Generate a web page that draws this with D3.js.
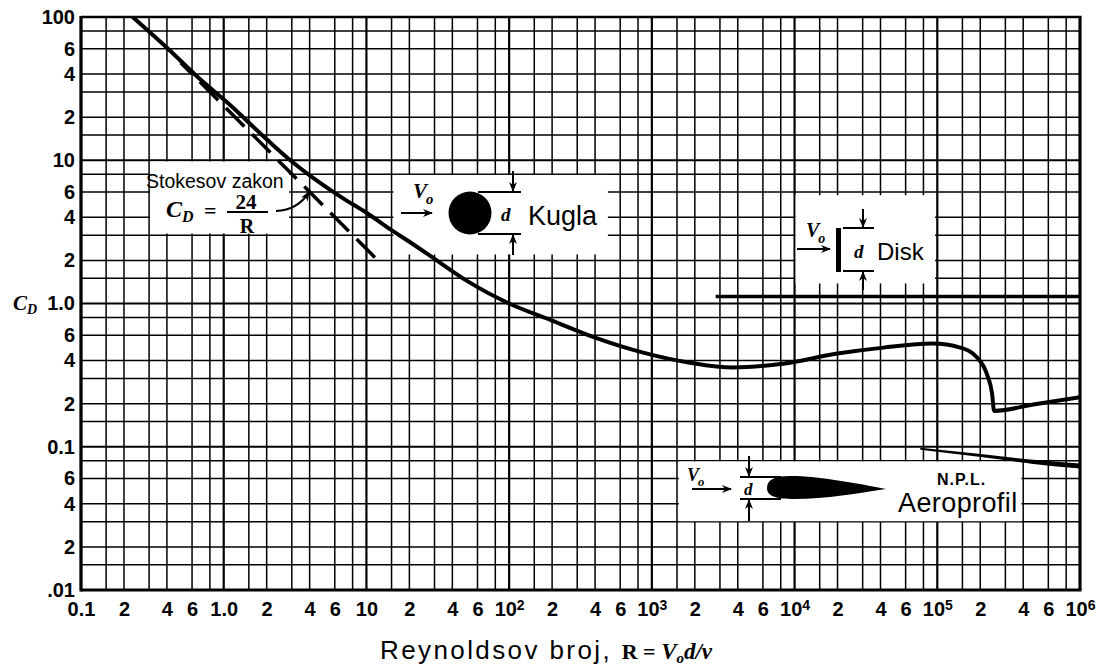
<!DOCTYPE html>
<html>
<head>
<meta charset="utf-8">
<script src="https://cdnjs.cloudflare.com/ajax/libs/d3/7.8.5/d3.min.js"></script>
<style>
    body { margin: 0; background: #fff; }
    .grid line { stroke: #000; stroke-width: 1.5; }
    .grid line.decade { stroke-width: 2.2; }
    .axis text { font-family: "Liberation Sans", Arial, sans-serif; font-weight: bold; font-size: 20px; fill: #000; }
    .sans { font-family: "Liberation Sans", Arial, sans-serif; fill: #000; }
    .serif { font-family: "Liberation Serif", "DejaVu Serif", serif; font-weight: bold; fill: #000; }
    .ital { font-style: italic; }
</style>
</head>
<body>
<div id="graph"></div>
<script>
// drag coefficient of a sphere
var sphereRe = [0.23, 0.4, 0.7, 1.05, 2, 3, 4.5, 7, 10, 15, 20, 30, 50, 100, 200, 400, 870, 1850,
    3700, 8300, 20000, 42000, 93000, 145000, 190000, 223000, 242000, 250000, 470000, 1000000];
var sphereCd = [100, 61, 36, 25.5, 14, 9.8, 7.2, 5.35, 4.3, 3.25, 2.7, 2.05, 1.45, 1.0, 0.76, 0.578, 0.454, 0.386,
    0.357, 0.38, 0.447, 0.492, 0.525, 0.492, 0.42, 0.32, 0.235, 0.178, 0.197, 0.222];

// flat disk
var diskRe = [2800, 1000000];
var diskCd = [1.12, 1.12];

// N.P.L. airfoil
var airfoilRe = [76000, 209000, 470000, 1000000];
var airfoilCd = [0.097, 0.0865, 0.0785, 0.0734];

// Stokes law segment, C_D = 24/R
var stokesRe = [0.5, 12.4];
var stokesCd = [48, 1.94];

var gridSteps = [1, 1.5, 2, 3, 4, 6, 8];
var xDecades = [0.1, 1, 10, 100, 1e3, 1e4, 1e5, 1e6];
var yDecades = [0.01, 0.1, 1, 10, 100];

var xTickValues = [0.1, 0.2, 0.4, 0.6, 1, 2, 4, 6, 10, 20, 40, 60, 100, 200, 400, 600,
    1e3, 2e3, 4e3, 6e3, 1e4, 2e4, 4e4, 6e4, 1e5, 2e5, 4e5, 6e5, 1e6];
var xTickLabels = ["0.1", "2", "4", "6", "1.0", "2", "4", "6", "10", "2", "4", "6", "10^2", "2", "4", "6",
    "10^3", "2", "4", "6", "10^4", "2", "4", "6", "10^5", "2", "4", "6", "10^6"];
var yTickValues = [0.01, 0.02, 0.04, 0.06, 0.1, 0.2, 0.4, 0.6, 1, 2, 4, 6, 10, 20, 40, 60, 100];
var yTickLabels = [".01", "2", "4", "6", "0.1", "2", "4", "6", "1.0", "2", "4", "6", "10", "2", "4", "6", "100"];

var width = 1107;
var height = 666;

var x = d3.scaleLog().domain( [0.1, 1e6] ).range( [81, 1080] );
var y = d3.scaleLog().domain( [0.01, 100] ).range( [590, 17] );

var vis = d3.select( "#graph" ).append( 'svg' )
    .attr( 'width', width )
    .attr( 'height', height );

var defs = vis.append( 'defs' );
defs.append( 'marker' )
    .attr( 'id', 'arrow' )
    .attr( 'viewBox', '0 0 10 8' )
    .attr( 'refX', 9 )
    .attr( 'refY', 4 )
    .attr( 'markerWidth', 10 )
    .attr( 'markerHeight', 8 )
    .attr( 'markerUnits', 'userSpaceOnUse' )
    .attr( 'orient', 'auto' )
    .append( 'path' )
    .attr( 'd', 'M0,0 L10,4 L0,8 L3,4 Z' )
    .attr( 'fill', '#000' );
defs.append( 'clipPath' ).attr( 'id', 'plot' )
    .append( 'rect' )
    .attr( 'x', x( 0.1 ) ).attr( 'y', y( 100 ) )
    .attr( 'width', x( 1e6 ) - x( 0.1 ) ).attr( 'height', y( 0.01 ) - y( 100 ) );

drawGrid( vis );
drawBlanks( vis );
drawAxes( vis );
drawCurves( vis );
drawNotes( vis );

function gridValues( decades ) {
    var vals = [];
    decades.forEach( function( d, i ) {
        if ( i === decades.length - 1 ) { vals.push( d ); return; }
        gridSteps.forEach( function( s ) { vals.push( d * s ); });
    });
    return vals;
}

function isDecade( d ) {
    var l = Math.log10( d );
    return Math.abs( l - Math.round( l ) ) < 1e-6;
}

function drawGrid( vis ) {
    var group = vis.append( 'g' ).attr( 'class', 'grid' );

    group.selectAll( 'line.vertical' )
        .data( gridValues( xDecades ) )
        .enter().append( 'line' )
        .attr( 'class', function( d ) { return isDecade( d ) ? 'vertical decade' : 'vertical'; })
        .attr( 'x1', function( d ) { return x( d ); })
        .attr( 'x2', function( d ) { return x( d ); })
        .attr( 'y1', y( 100 ) )
        .attr( 'y2', y( 0.01 ) );

    group.selectAll( 'line.horizontal' )
        .data( gridValues( yDecades ) )
        .enter().append( 'line' )
        .attr( 'class', function( d ) { return isDecade( d ) ? 'horizontal decade' : 'horizontal'; })
        .attr( 'x1', x( 0.1 ) )
        .attr( 'x2', x( 1e6 ) )
        .attr( 'y1', function( d ) { return y( d ); })
        .attr( 'y2', function( d ) { return y( d ); });
}

// white patches behind the labels, the grid is left out there
function drawBlanks( vis ) {
    var boxes = [
        [0.3, 2.92, 9.8, 3.08],
        [15.2, 500, 7.9, 2.2],
        [1e4, 9.8e4, 5.7, 1.38],
        [1.52e3, 3.95e5, 0.079, 0.0302]
    ];
    vis.append( 'g' ).selectAll( 'rect' )
        .data( boxes )
        .enter().append( 'rect' )
        .attr( 'x', function( b ) { return x( b[0] ) + 1; })
        .attr( 'y', function( b ) { return y( b[2] ); })
        .attr( 'width', function( b ) { return x( b[1] ) - x( b[0] ) - 2; })
        .attr( 'height', function( b ) { return y( b[3] ) - y( b[2] ); })
        .attr( 'fill', '#fff' );
}

function drawAxes( vis ) {
    var frame = vis.append( 'g' ).attr( 'stroke', '#000' ).attr( 'fill', 'none' );
    frame.append( 'line' ).attr( 'x1', x( 0.1 ) ).attr( 'x2', x( 0.1 ) )
        .attr( 'y1', y( 100 ) - 1 ).attr( 'y2', y( 0.01 ) + 1.5 ).attr( 'stroke-width', 3.2 );
    frame.append( 'line' ).attr( 'x1', x( 0.1 ) ).attr( 'x2', x( 1e6 ) + 1.5 )
        .attr( 'y1', y( 0.01 ) ).attr( 'y2', y( 0.01 ) ).attr( 'stroke-width', 3.2 );
    frame.append( 'line' ).attr( 'x1', x( 0.1 ) ).attr( 'x2', x( 1e6 ) + 1.5 )
        .attr( 'y1', y( 100 ) ).attr( 'y2', y( 100 ) ).attr( 'stroke-width', 2.6 );
    frame.append( 'line' ).attr( 'x1', x( 1e6 ) ).attr( 'x2', x( 1e6 ) )
        .attr( 'y1', y( 100 ) ).attr( 'y2', y( 0.01 ) ).attr( 'stroke-width', 3 );

    var xAxis = vis.append( 'g' )
        .attr( 'class', 'axis' )
        .attr( 'transform', 'translate(0,' + y( 0.01 ) + ')' )
        .call( d3.axisBottom( x )
            .tickValues( xTickValues )
            .tickSize( 0 )
            .tickPadding( 12 )
            .tickFormat( function( d, i ) { return xTickLabels[i]; }) );
    xAxis.select( '.domain' ).remove();
    xAxis.selectAll( 'text' ).each( function() {
        var t = d3.select( this );
        var parts = t.text().split( '^' );
        if ( parts.length < 2 ) return;
        t.text( parts[0] );
        t.append( 'tspan' )
            .attr( 'dy', '-0.45em' )
            .attr( 'font-size', '14px' )
            .text( parts[1] );
    });

    var yAxis = vis.append( 'g' )
        .attr( 'class', 'axis' )
        .attr( 'transform', 'translate(' + x( 0.1 ) + ',0)' )
        .call( d3.axisLeft( y )
            .tickValues( yTickValues )
            .tickSize( 0 )
            .tickPadding( 6 )
            .tickFormat( function( d, i ) { return yTickLabels[i]; }) );
    yAxis.select( '.domain' ).remove();

    var cd = vis.append( 'text' )
        .attr( 'class', 'serif ital' )
        .attr( 'x', 13 )
        .attr( 'y', y( 1 ) + 6 )
        .attr( 'font-size', '21px' )
        .text( 'C' );
    cd.append( 'tspan' ).attr( 'dy', 4 ).attr( 'font-size', '14px' ).text( 'D' );

    var title = vis.append( 'text' )
        .attr( 'class', 'sans' )
        .attr( 'x', 380 )
        .attr( 'y', 659 )
        .attr( 'font-size', '26px' );
    title.append( 'tspan' ).attr( 'letter-spacing', '2.4px' ).text( 'Reynoldsov broj, ' );
    title.append( 'tspan' ).attr( 'class', 'serif' ).attr( 'font-size', '22px' ).text( 'R = ' );
    title.append( 'tspan' ).attr( 'class', 'serif ital' ).attr( 'font-size', '23px' ).text( 'V' );
    title.append( 'tspan' ).attr( 'class', 'serif ital' ).attr( 'font-size', '15px' ).attr( 'dy', 4 ).text( 'o' );
    title.append( 'tspan' ).attr( 'class', 'serif ital' ).attr( 'font-size', '23px' ).attr( 'dy', -4 ).text( 'd/\u03bd' );
}

function drawCurves( vis ) {
    var group = vis.append( 'g' ).attr( 'clip-path', 'url(#plot)' );

    var line = d3.line()
        .x( function( d ) { return x( d[0] ); })
        .y( function( d ) { return y( d[1] ); })
        .curve( d3.curveMonotoneX );

    group.append( 'path' )
        .datum( d3.zip( sphereRe, sphereCd ) )
        .attr( 'd', line )
        .attr( 'fill', 'none' )
        .attr( 'stroke', '#000' )
        .attr( 'stroke-width', 4 );

    group.append( 'path' )
        .datum( d3.zip( stokesRe, stokesCd ) )
        .attr( 'd', line.curve( d3.curveLinear ) )
        .attr( 'fill', 'none' )
        .attr( 'stroke', '#000' )
        .attr( 'stroke-width', 3.5 )
        .attr( 'stroke-dasharray', '26 11' )
        .attr( 'stroke-dashoffset', 10 );

    group.append( 'path' )
        .datum( d3.zip( diskRe, diskCd ) )
        .attr( 'd', line )
        .attr( 'fill', 'none' )
        .attr( 'stroke', '#000' )
        .attr( 'stroke-width', 3.5 );

    // the airfoil curve gets thicker to the right
    var n = airfoilRe.length;
    var band = d3.area()
        .x( function( d ) { return x( d[0] ); })
        .y0( function( d, i ) { return y( d[1] ) - 1 - 1.6 * i / ( n - 1 ); })
        .y1( function( d, i ) { return y( d[1] ) + 1 + 1.6 * i / ( n - 1 ); })
        .curve( d3.curveMonotoneX );
    group.append( 'path' )
        .datum( d3.zip( airfoilRe, airfoilCd ) )
        .attr( 'd', band )
        .attr( 'fill', '#000' );
}

function arrow( g, x1, y1, x2, y2 ) {
    g.append( 'line' )
        .attr( 'x1', x1 ).attr( 'y1', y1 )
        .attr( 'x2', x2 ).attr( 'y2', y2 )
        .attr( 'stroke', '#000' )
        .attr( 'stroke-width', 2 )
        .attr( 'marker-end', 'url(#arrow)' );
}

function rule( g, x1, y1, x2, y2 ) {
    g.append( 'line' )
        .attr( 'x1', x1 ).attr( 'y1', y1 )
        .attr( 'x2', x2 ).attr( 'y2', y2 )
        .attr( 'stroke', '#000' )
        .attr( 'stroke-width', 2 );
}

function vee( g, px, py, size ) {
    var t = g.append( 'text' )
        .attr( 'class', 'serif ital' )
        .attr( 'x', px ).attr( 'y', py )
        .attr( 'font-size', size + 'px' )
        .text( 'V' );
    t.append( 'tspan' ).attr( 'dx', -1 ).attr( 'dy', size * 0.3 )
        .attr( 'font-size', ( size * 0.7 ) + 'px' ).text( 'o' );
}

function drawNotes( vis ) {
    var g = vis.append( 'g' );

    // Stokes law
    g.append( 'text' ).attr( 'class', 'sans' )
        .attr( 'x', 146 ).attr( 'y', 188 )
        .attr( 'font-size', '19.5px' )
        .text( 'Stokesov zakon' );
    var c = g.append( 'text' ).attr( 'class', 'serif ital' )
        .attr( 'x', 166 ).attr( 'y', 217 )
        .attr( 'font-size', '24px' )
        .text( 'C' );
    c.append( 'tspan' ).attr( 'dy', 5 ).attr( 'font-size', '16px' ).text( 'D' );
    g.append( 'text' ).attr( 'class', 'serif' )
        .attr( 'x', 204 ).attr( 'y', 218 )
        .attr( 'font-size', '22px' )
        .text( '=' );
    g.append( 'text' ).attr( 'class', 'serif' )
        .attr( 'x', 246 ).attr( 'y', 209 )
        .attr( 'text-anchor', 'middle' )
        .attr( 'font-size', '21px' )
        .text( '24' );
    rule( g, 227, 212, 268, 212 );
    g.append( 'text' ).attr( 'class', 'serif' )
        .attr( 'x', 247 ).attr( 'y', 233 )
        .attr( 'text-anchor', 'middle' )
        .attr( 'font-size', '20px' )
        .text( 'R' );
    g.append( 'path' )
        .attr( 'd', 'M276,211 Q298,210 309,192' )
        .attr( 'fill', 'none' )
        .attr( 'stroke', '#000' )
        .attr( 'stroke-width', 2.2 )
        .attr( 'marker-end', 'url(#arrow)' );

    // sphere
    vee( g, 413, 198, 21 );
    arrow( g, 401, 213, 432, 213 );
    g.append( 'circle' ).attr( 'cx', 470 ).attr( 'cy', 213 ).attr( 'r', 21.5 ).attr( 'fill', '#000' );
    rule( g, 478, 192, 521, 192 );
    rule( g, 478, 234, 521, 234 );
    arrow( g, 513, 171, 513, 191 );
    arrow( g, 513, 255, 513, 235 );
    g.append( 'text' ).attr( 'class', 'serif ital' )
        .attr( 'x', 501 ).attr( 'y', 221 )
        .attr( 'font-size', '19px' )
        .text( 'd' );
    g.append( 'text' ).attr( 'class', 'sans' )
        .attr( 'x', 528 ).attr( 'y', 225 )
        .attr( 'font-size', '27px' )
        .text( 'Kugla' );

    // disk
    vee( g, 806, 237, 20 );
    arrow( g, 797, 249, 830, 249 );
    g.append( 'rect' ).attr( 'x', 836 ).attr( 'y', 228 ).attr( 'width', 5 ).attr( 'height', 44 ).attr( 'fill', '#000' );
    rule( g, 843, 228, 874, 228 );
    rule( g, 843, 271, 874, 271 );
    arrow( g, 863, 209, 863, 227 );
    arrow( g, 863, 290, 863, 272 );
    g.append( 'text' ).attr( 'class', 'serif ital' )
        .attr( 'x', 854 ).attr( 'y', 258 )
        .attr( 'font-size', '19px' )
        .text( 'd' );
    g.append( 'text' ).attr( 'class', 'sans' )
        .attr( 'x', 877 ).attr( 'y', 260 )
        .attr( 'font-size', '24px' )
        .text( 'Disk' );

    // airfoil
    vee( g, 687, 481, 18 );
    arrow( g, 692, 489, 731, 489 );
    rule( g, 740, 477, 781, 477 );
    rule( g, 740, 499, 781, 499 );
    arrow( g, 749, 456, 749, 476 );
    arrow( g, 749, 521, 749, 500 );
    g.append( 'text' ).attr( 'class', 'serif ital' )
        .attr( 'x', 744 ).attr( 'y', 495 )
        .attr( 'font-size', '17px' )
        .text( 'd' );
    g.append( 'path' )
        .attr( 'd', 'M767,488 C767,479 776,476 790,476 C820,476 860,484 886,489 C860,493 825,499 795,499 C775,499 767,496 767,488 Z' )
        .attr( 'fill', '#000' );
    g.append( 'text' ).attr( 'class', 'sans' )
        .attr( 'x', 937 ).attr( 'y', 485 )
        .attr( 'font-size', '16px' )
        .attr( 'font-weight', 'bold' )
        .attr( 'letter-spacing', '1px' )
        .text( 'N.P.L.' );
    g.append( 'text' ).attr( 'class', 'sans' )
        .attr( 'x', 898 ).attr( 'y', 512 )
        .attr( 'font-size', '27px' )
        .attr( 'letter-spacing', '0.4px' )
        .text( 'Aeroprofil' );
}
</script>
</body>
</html>
